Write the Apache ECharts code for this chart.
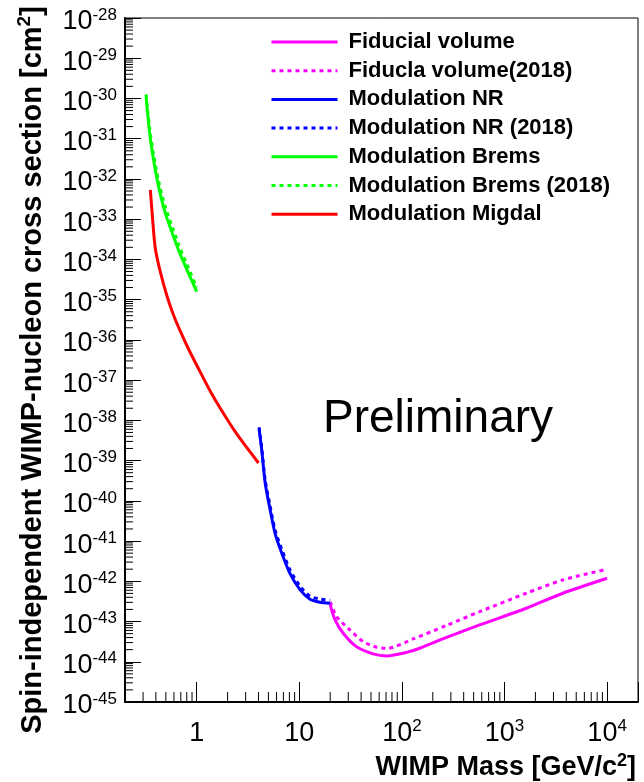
<!DOCTYPE html>
<html>
<head>
<meta charset="utf-8">
<script src="https://cdn.jsdelivr.net/npm/echarts@6/dist/echarts.min.js"></script>
<style>
  html, body { margin: 0; padding: 0; background: #fff; }
  #main { width: 644px; height: 782px; }
</style>
</head>
<body>
<div id="main"></div>
<script>
// WIMP mass [GeV/c^2] and cross section [cm^2]
var fidMass = [20, 22.3, 26.8, 36, 52.5, 71, 111, 149, 272, 573, 1630, 3700, 10000];
var fidXs = [2.59e-43, 1.10e-43, 5.12e-44, 2.38e-44, 1.57e-44, 1.40e-44, 1.71e-44, 2.17e-44, 4.03e-44, 8.22e-44, 2.14e-43, 5.05e-43, 1.19e-42];

var fid18Mass = [20, 23.1, 31.1, 42, 56.6, 73, 128.5, 272, 573, 1630, 3700, 10000];
var fid18Xs = [3.07e-43, 1.32e-43, 6.18e-44, 3.16e-44, 2.30e-44, 2.17e-44, 3.69e-44, 8.00e-44, 1.76e-43, 5.05e-43, 1.08e-42, 2.00e-42];

var nrMass = [4.05, 4.3, 4.65, 5.2, 5.8, 6.75, 8.1, 10.2, 12.7, 15.9, 20];
var nrXs = [6.37e-39, 1.84e-39, 2.73e-40, 5.94e-41, 1.56e-41, 4.98e-42, 1.58e-42, 6.10e-43, 3.58e-43, 3.02e-43, 2.85e-43];
var nr18Xs = [6.76e-39, 2.09e-39, 3.24e-40, 7.24e-41, 1.91e-41, 6.17e-42, 1.95e-42, 7.41e-43, 4.27e-43, 3.63e-43, 3.39e-43];

var bremsMass = [0.321, 0.348, 0.38, 0.425, 0.494, 0.594, 0.665, 0.804, 1.0];
var bremsXs = [1.10e-30, 1.35e-31, 2.95e-32, 6.46e-33, 1.41e-33, 3.72e-34, 1.70e-34, 5.50e-35, 1.58e-35];
var brems18Xs = [1.26e-30, 1.78e-31, 3.98e-32, 8.91e-33, 2.00e-33, 5.25e-34, 2.34e-34, 7.41e-35, 2.00e-35];

var migdalMass = [0.353, 0.369, 0.394, 0.442, 0.513, 0.594, 0.69, 0.832, 1.081, 1.352, 1.69, 2.455, 4.0];
var migdalXs = [5.32e-33, 1.27e-33, 1.92e-34, 4.88e-35, 1.23e-35, 4.16e-36, 1.67e-36, 5.94e-37, 1.60e-37, 5.38e-38, 2.03e-38, 4.59e-39, 8.73e-40];

var legendNames = ['Fiducial volume', 'Fiducla volume(2018)', 'Modulation NR', 'Modulation NR (2018)',
  'Modulation Brems', 'Modulation Brems (2018)', 'Modulation Migdal'];

// y axis is drawn in decades (log10 of cross section)
var yMinExp = -45, yMaxExp = -28;

// minor tick values (2..9 per decade)
var xMinor = [];
for (var e = -1; e <= 3; e++) {
  for (var k = 2; k <= 9; k++) {
    if (e === -1 && k < 3) continue;
    xMinor.push(k * Math.pow(10, e));
  }
}
var yMinor = [];
for (var e2 = yMinExp; e2 < yMaxExp; e2++) {
  for (var k2 = 2; k2 <= 9; k2++) yMinor.push(e2 + Math.log10(k2));
}

var FONT = '"Liberation Sans", Arial, Helvetica, sans-serif';

function zipLog(a, b) {
  var out = [];
  for (var i = 0; i < a.length; i++) out.push([a[i], Math.log10(b[i])]);
  return out;
}

function expOf(v) {
  var l = Math.log10(v);
  var r = Math.round(l);
  return Math.abs(l - r) < 1e-6 ? r : null;
}

function curve(name, mass, xs, color, dotted) {
  return {
    name: name,
    type: 'line',
    data: zipLog(mass, xs),
    symbol: 'none',
    showSymbol: false,
    smooth: 0.25,
    color: color,
    lineStyle: { color: color, width: 3, type: dotted ? [4, 4] : 'solid' },
    z: 3
  };
}

var supRich = {
  t: { fontFamily: FONT, fontSize: 29, fontWeight: 'bold', fill: '#000', lineHeight: 29, verticalAlign: 'bottom' },
  s: { fontFamily: FONT, fontSize: 19, fontWeight: 'bold', fill: '#000', lineHeight: 19, verticalAlign: 'bottom', padding: [0, 0, 13, 0] }
};

var myChart = echarts.init(document.getElementById('main'));

var option = {
  backgroundColor: '#fff',
  animation: false,
  grid: {
    left: 125, top: 18, width: 513, height: 684,
    containLabel: false,
    outerBoundsMode: 'none',
    show: true, borderColor: '#000', borderWidth: 1, backgroundColor: 'transparent'
  },
  legend: {
    data: legendNames,
    orient: 'vertical',
    left: 270,
    top: 30,
    padding: 0,
    itemWidth: 66,
    itemHeight: 24,
    itemGap: 4.7,
    itemStyle: { opacity: 0 },
    lineStyle: { width: 3 },
    textStyle: {
      fontFamily: FONT, fontSize: 22, fontWeight: 'bold', color: '#000',
      lineHeight: 24, padding: [0, 0, 0, 6]
    }
  },
  xAxis: {
    type: 'log',
    logBase: 10,
    min: 0.2,
    max: 20000,
    name: '{t|WIMP Mass [GeV/c}{s|2}{t|]}',
    nameLocation: 'end',
    nameGap: -2,
    nameTextStyle: {
      align: 'right',
      verticalAlign: 'top',
      padding: [52, 0, 0, 0],
      rich: {
        t: { fontFamily: FONT, fontSize: 27, fontWeight: 'bold', color: '#000', lineHeight: 27, verticalAlign: 'bottom' },
        s: { fontFamily: FONT, fontSize: 18, fontWeight: 'bold', color: '#000', lineHeight: 18, verticalAlign: 'bottom', padding: [0, 0, 11, 0] }
      }
    },
    axisLine: { show: true, lineStyle: { color: '#000', width: 2 } },
    axisTick: { show: true, inside: true, length: 20, lineStyle: { color: '#000', width: 1 } },
    splitLine: { show: false },
    axisLabel: {
      margin: 18,
      formatter: function (v) {
        var n = expOf(v);
        if (n === null) return '';
        if (n === 0) return '{b|1}';
        if (n === 1) return '{b|10}';
        return '{b|10}{s|' + n + '}';
      },
      rich: {
        b: { fontFamily: FONT, fontSize: 27, color: '#000', lineHeight: 27, verticalAlign: 'bottom' },
        s: { fontFamily: FONT, fontSize: 17, color: '#000', lineHeight: 17, verticalAlign: 'bottom', padding: [0, 0, 12, 0] }
      }
    }
  },
  yAxis: {
    type: 'value',
    min: yMinExp,
    max: yMaxExp,
    interval: 1,
    axisLine: { show: true, lineStyle: { color: '#000', width: 2 } },
    axisTick: { show: true, inside: true, length: 16, lineStyle: { color: '#000', width: 1 } },
    splitLine: { show: false },
    axisLabel: {
      margin: 8,
      showMinLabel: true,
      showMaxLabel: true,
      hideOverlap: false,
      padding: [8, 0, 0, 0],
      formatter: function (v) {
        return '{b|10}{s|' + Math.round(v) + '}';
      },
      rich: {
        b: { fontFamily: FONT, fontSize: 27, color: '#000', lineHeight: 27, verticalAlign: 'bottom' },
        s: { fontFamily: FONT, fontSize: 17, color: '#000', lineHeight: 17, verticalAlign: 'bottom', padding: [0, 0, 12, 0] }
      }
    }
  },
  graphic: [{
    type: 'text',
    x: 323,
    y: 419,
    style: {
      text: 'Preliminary',
      fontFamily: FONT,
      fontSize: 46,
      fill: '#000',
      align: 'left',
      verticalAlign: 'middle'
    }
  }, {
    type: 'text',
    x: 33,
    y: 370,
    rotation: Math.PI / 2,
    style: {
      text: '{t|Spin-independent WIMP-nucleon cross section [cm}{s|2}{t|]}',
      rich: supRich,
      align: 'center',
      verticalAlign: 'middle'
    }
  }],
  series: [
    curve('Fiducial volume', fidMass, fidXs, '#ff00ff', false),
    curve('Fiducla volume(2018)', fid18Mass, fid18Xs, '#ff00ff', true),
    curve('Modulation NR', nrMass, nrXs, '#0000ff', false),
    curve('Modulation NR (2018)', nrMass, nr18Xs, '#0000ff', true),
    curve('Modulation Brems', bremsMass, bremsXs, '#00ff00', false),
    curve('Modulation Brems (2018)', bremsMass, brems18Xs, '#00ff00', true),
    curve('Modulation Migdal', migdalMass, migdalXs, '#ff0000', false),
    {
      // minor ticks on the mass axis
      type: 'custom',
      silent: true,
      clip: false,
      z: 5,
      data: xMinor.map(function (v) { return [v, yMinExp]; }),
      renderItem: function (params, api) {
        var p = api.coord([api.value(0), api.value(1)]);
        return {
          type: 'line',
          shape: { x1: p[0], y1: p[1], x2: p[0], y2: p[1] - 10 },
          style: { stroke: '#000', lineWidth: 1 }
        };
      }
    },
    {
      // minor ticks on the cross-section axis
      type: 'custom',
      silent: true,
      clip: false,
      z: 5,
      data: yMinor.map(function (v) { return [0.2, v]; }),
      renderItem: function (params, api) {
        var p = api.coord([api.value(0), api.value(1)]);
        return {
          type: 'line',
          shape: { x1: p[0], y1: p[1], x2: p[0] + 8, y2: p[1] },
          style: { stroke: '#000', lineWidth: 1 }
        };
      }
    }
  ]
};

myChart.setOption(option);
window.addEventListener('resize', function () {
  myChart.resize();
});
</script>
</body>
</html>
